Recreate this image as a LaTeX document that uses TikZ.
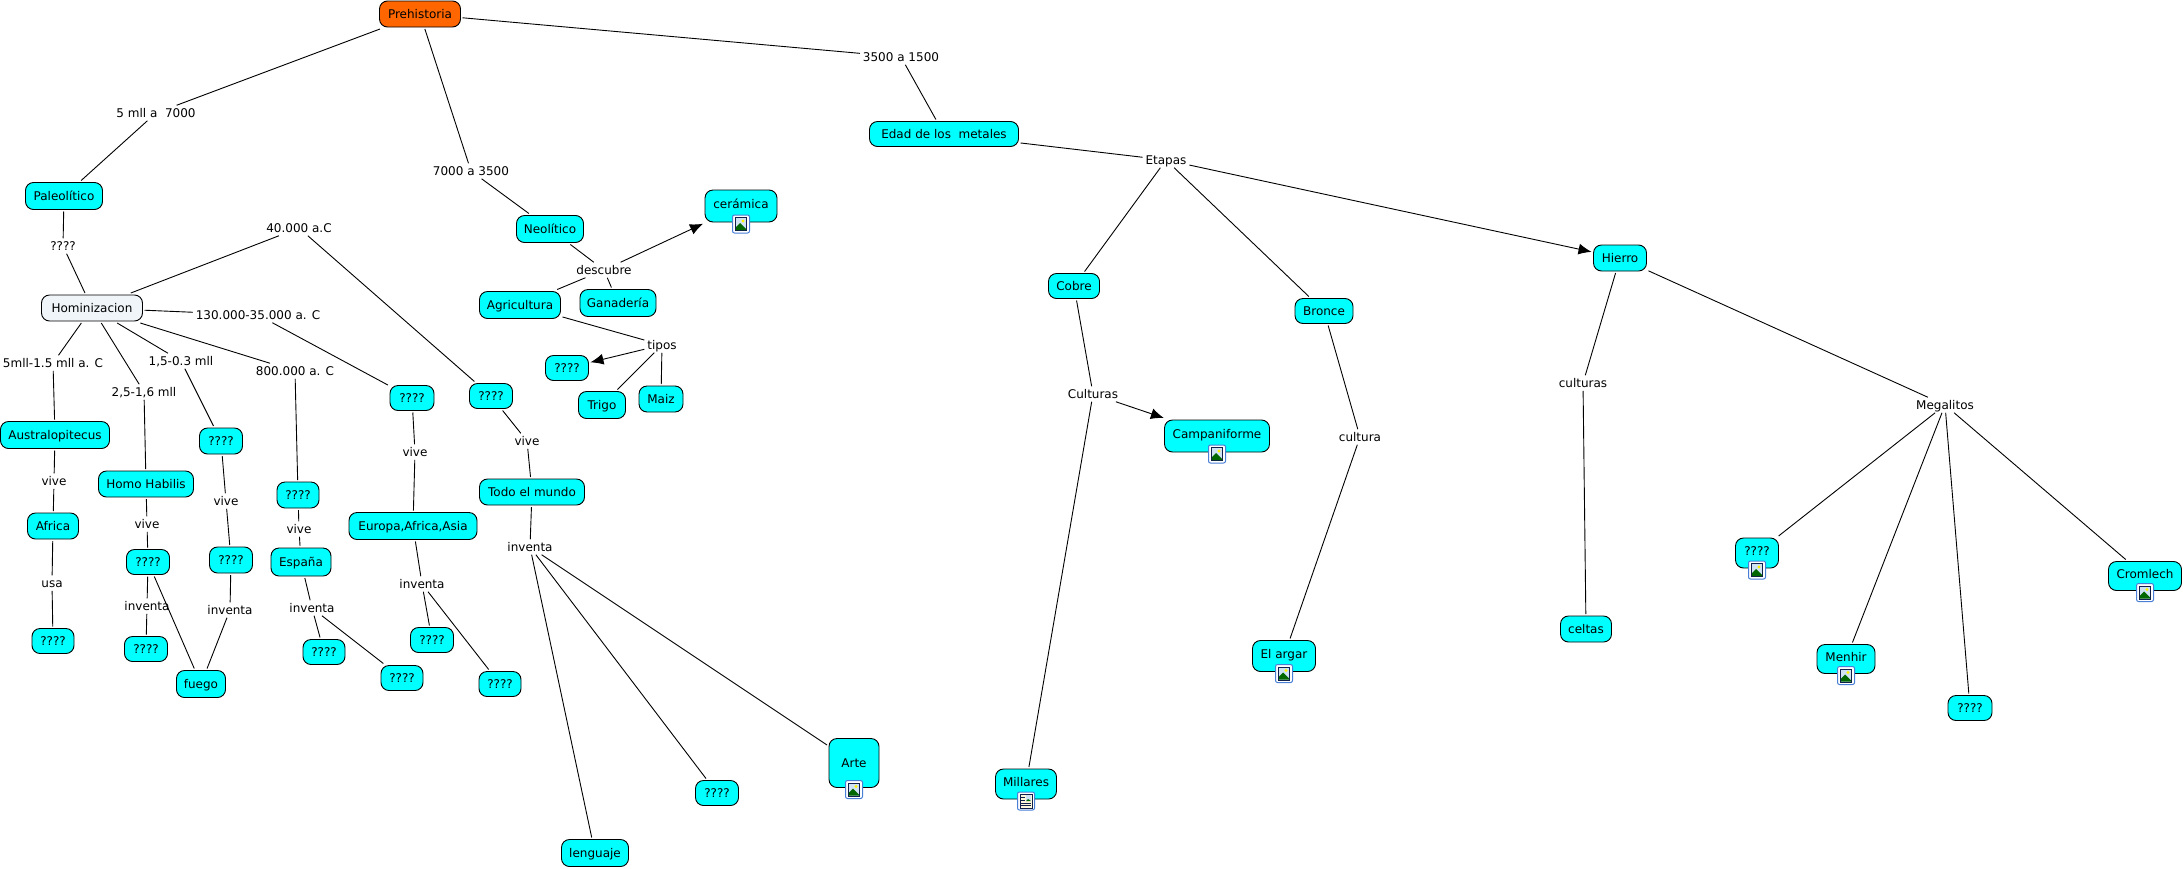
\documentclass[tikz,border=0pt]{standalone}
\usepackage{fontspec}
\setmainfont{DejaVu Sans}
\usetikzlibrary{arrows.meta}
\definecolor{conceptcyan}{HTML}{00FFFF}
\definecolor{rootorange}{HTML}{FF6600}
\definecolor{startgrey}{HTML}{EFF5F8}
\definecolor{iconblue}{HTML}{4A7FD6}
\definecolor{iconnavy}{HTML}{10204A}
\definecolor{iconsky}{HTML}{CFE3F5}
\definecolor{iconcream}{HTML}{FFF8DC}
\tikzset{
  concept/.style 2 args={draw=black,line width=0.9pt,rounded corners=8pt,fill=conceptcyan,
    inner sep=0pt,outer sep=2pt,text height=10.5pt,text depth=2pt,font=\fontsize{12}{14}\selectfont,
    minimum width=#1pt,minimum height=#2pt},
  iconic/.style={text depth=6pt},
  phrase/.style={inner xsep=3pt,inner ysep=1.5pt,outer sep=0pt,text height=10.5pt,text depth=2pt,
    font=\fontsize{12}{14}\selectfont},
  picicon/.pic={
    \draw[draw=iconblue,fill=white,rounded corners=2pt,line width=1pt] (-8.5,-9) rectangle (8.5,9);
    \fill[iconnavy] (-6,-7) rectangle (6,7);
    \fill[iconsky] (-5,-6) rectangle (5,6);
    \fill[green!40!black] (-5,6) -- (-5,3) -- (-1,-1) -- (5,5) -- (5,6) -- cycle;
    \fill[yellow] (2,-3) circle (1.7);
  },
  docicon/.pic={
    \draw[draw=iconblue,fill=white,rounded corners=2pt,line width=1pt] (-8.5,-9) rectangle (8.5,9);
    \draw[iconnavy,fill=iconcream] (-6,-7) rectangle (6,7);
    \fill[iconsky] (0,-6) rectangle (5,0);
    \fill[green!40!black] (0,0) -- (2,-2) -- (5,0) -- cycle;
    \draw[iconnavy] (-5,-4) -- (-1,-4) (-5,-1) -- (-1,-1) (-5,2) -- (5,2) (-5,4.5) -- (5,4.5);
  }
}
\begin{document}
\begin{tikzpicture}[x=1pt,y=-1pt]
  \useasboundingbox (0,0) rectangle (2183,868);
  % concepts
  \draw
    (420,14) node[concept={81}{26},fill=rootorange] (prehistoria){Prehistoria}
    (64,196) node[concept={77}{27}] (paleolitico){Paleolítico}
    (92,308) node[concept={101}{26},fill=startgrey] (hominizacion){Hominizacion}
    (550,229) node[concept={67}{27}] (neolitico){Neolítico}
    (741,206) node[concept={72}{32},iconic] (ceramica){cerámica}
    (520,305) node[concept={81}{27}] (agricultura){Agricultura}
    (618,303) node[concept={76}{27}] (ganaderia){Ganadería}
    (567,368) node[concept={43}{25}] (qtipos){????}
    (602,405) node[concept={47}{27}] (trigo){Trigo}
    (661,399) node[concept={44}{26}] (maiz){Maiz}
    (55,435) node[concept={109}{27}] (australo){Australopitecus}
    (53,526) node[concept={51}{26}] (africa){Africa}
    (53,641) node[concept={42}{25}] (qusa){????}
    (146,484) node[concept={95}{26}] (homo){Homo Habilis}
    (148,562) node[concept={43}{25}] (qhomo){????}
    (146,649) node[concept={43}{25}] (qhomoinv){????}
    (201,684) node[concept={49}{27}] (fuego){fuego}
    (221,441) node[concept={43}{26}] (qmll){????}
    (231,560) node[concept={43}{26}] (qmllvive){????}
    (298,495) node[concept={42}{26}] (qocho){????}
    (301,562) node[concept={60}{28}] (espana){España}
    (324,652) node[concept={42}{25}] (qespa){????}
    (402,678) node[concept={42}{25}] (qespb){????}
    (412,398) node[concept={44}{25}] (qciento){????}
    (413,526) node[concept={128}{27}] (europa){Europa,Africa,Asia}
    (432,640) node[concept={43}{25}] (qeura){????}
    (500,684) node[concept={42}{25}] (qeurb){????}
    (491,396) node[concept={43}{25}] (qcuarenta){????}
    (532,492) node[concept={105}{26}] (todo){Todo el mundo}
    (595,853) node[concept={67}{27}] (lenguaje){lenguaje}
    (717,793) node[concept={43}{25}] (qtodo){????}
    (854,763) node[concept={50}{49}] (arte){Arte}
    (944,134) node[concept={149}{25}] (edad){Edad de los~~metales~}
    (1074,286) node[concept={51}{25}] (cobre){Cobre}
    (1324,311) node[concept={58}{25}] (bronce){Bronce}
    (1620,258) node[concept={53}{26}] (hierro){Hierro}
    (1217,436) node[concept={105}{32},iconic] (campaniforme){Campaniforme}
    (1026,784) node[concept={61}{30},iconic] (millares){Millares}
    (1284,656) node[concept={63}{31},iconic] (argar){El argar}
    (1586,629) node[concept={51}{26}] (celtas){celtas}
    (1757,553) node[concept={43}{30},iconic] (qmega){????}
    (1846,659) node[concept={58}{29},iconic] (menhir){Menhir}
    (1970,708) node[concept={44}{25}] (qmegb){????}
    (2145,576) node[concept={73}{29},iconic] (cromlech){Cromlech};
  % linking phrases
  \draw
    (156,113) node[phrase] (pcinco){5 mll a~~7000}
    (471,171) node[phrase] (psiete){7000 a 3500}
    (901,57) node[phrase] (ptres){3500 a 1500}
    (63,246) node[phrase] (ppal){????}
    (299,228) node[phrase] (pcuarenta){40.000 a.C}
    (258,315) node[phrase] (pciento){130.000-35.000 a. C}
    (295,371) node[phrase] (pocho){800.000 a. C}
    (53,363) node[phrase] (paustr){5mll-1.5 mll a. C}
    (144,392) node[phrase] (phomo){2,5-1,6 mll}
    (181,361) node[phrase] (pmll){1,5-0.3 mll}
    (54,481) node[phrase] (vivea){vive}
    (52,583) node[phrase] (usa){usa}
    (147,524) node[phrase] (viveb){vive}
    (147,606) node[phrase] (inva){inventa}
    (226,501) node[phrase] (vivec){vive}
    (230,610) node[phrase] (invb){inventa}
    (299,529) node[phrase] (vived){vive}
    (312,608) node[phrase] (invc){inventa}
    (415,452) node[phrase] (vivee){vive}
    (422,584) node[phrase] (invd){inventa}
    (527,441) node[phrase] (vivef){vive}
    (530,547) node[phrase] (inve){inventa}
    (604,270) node[phrase] (descubre){descubre}
    (662,345) node[phrase] (tipos){tipos}
    (1166,160) node[phrase] (etapas){Etapas}
    (1093,394) node[phrase] (culturasa){Culturas}
    (1360,437) node[phrase] (cultura){cultura}
    (1583,383) node[phrase] (culturasb){culturas}
    (1945,405) node[phrase] (megalitos){Megalitos};
  \begin{scope}[line width=0.9pt]
    \draw (prehistoria) to (pcinco);
    \draw (pcinco) to (paleolitico);
    \draw (prehistoria) to (psiete);
    \draw (psiete) to (neolitico);
    \draw (prehistoria) to (ptres);
    \draw (ptres) to (edad);
    \draw (paleolitico) to (ppal);
    \draw (ppal) to (hominizacion);
    \draw (hominizacion) to (pcuarenta);
    \draw (pcuarenta) to (qcuarenta);
    \draw (hominizacion) to (pciento);
    \draw (pciento) to (qciento);
    \draw (hominizacion) to (pocho);
    \draw (pocho) to (qocho);
    \draw (hominizacion) to (paustr);
    \draw (paustr) to (australo);
    \draw (hominizacion) to (phomo);
    \draw (phomo) to (homo);
    \draw (hominizacion) to (pmll);
    \draw (pmll) to (qmll);
    \draw (australo) to (vivea);
    \draw (vivea) to (africa);
    \draw (africa) to (usa);
    \draw (usa) to (qusa);
    \draw (homo) to (viveb);
    \draw (viveb) to (qhomo);
    \draw (qhomo) to (inva);
    \draw (inva) to (qhomoinv);
    \draw (qhomo) to (fuego);
    \draw (qmll) to (vivec);
    \draw (vivec) to (qmllvive);
    \draw (qmllvive) to (invb);
    \draw (invb) to (fuego);
    \draw (qocho) to (vived);
    \draw (vived) to (espana);
    \draw (espana) to (invc);
    \draw (invc) to (qespa);
    \draw (invc) to (qespb);
    \draw (qciento) to (vivee);
    \draw (vivee) to (europa);
    \draw (europa) to (invd);
    \draw (invd) to (qeura);
    \draw (invd) to (qeurb);
    \draw (qcuarenta) to (vivef);
    \draw (vivef) to (todo);
    \draw (todo) to (inve);
    \draw (inve) to (lenguaje);
    \draw (inve) to (qtodo);
    \draw (inve) to (arte);
    \draw (neolitico) to (descubre);
    \draw (descubre) to (agricultura);
    \draw (descubre) to (ganaderia);
    \draw (agricultura) to (tipos);
    \draw (tipos) to (trigo);
    \draw (tipos) to (maiz);
    \draw (edad) to (etapas);
    \draw (etapas) to (cobre);
    \draw (etapas) to (bronce);
    \draw (cobre) to (culturasa);
    \draw (culturasa) to (millares);
    \draw (bronce) to (cultura);
    \draw (cultura) to (argar);
    \draw (hierro) to (culturasb);
    \draw (culturasb) to (celtas);
    \draw (hierro) to (megalitos);
    \draw (megalitos) to (qmega);
    \draw (megalitos) to (menhir);
    \draw (megalitos) to (qmegb);
    \draw (megalitos) to (cromlech);
  \end{scope}
  \begin{scope}[line width=0.9pt,-{Latex[length=13pt,width=11pt]}]
    \draw (descubre) to (ceramica);
    \draw (tipos) to (qtipos);
    \draw (etapas) to (hierro);
    \draw (culturasa) to (campaniforme);
  \end{scope}
  % icons on the concepts
  \draw (ceramica.south) pic {picicon};
  \draw (arte.south) pic {picicon};
  \draw (campaniforme.south) pic {picicon};
  \draw (argar.south) pic {picicon};
  \draw (qmega.south) pic {picicon};
  \draw (menhir.south) pic {picicon};
  \draw (cromlech.south) pic {picicon};
  \draw (millares.south) pic {docicon};
\end{tikzpicture}
\end{document}
